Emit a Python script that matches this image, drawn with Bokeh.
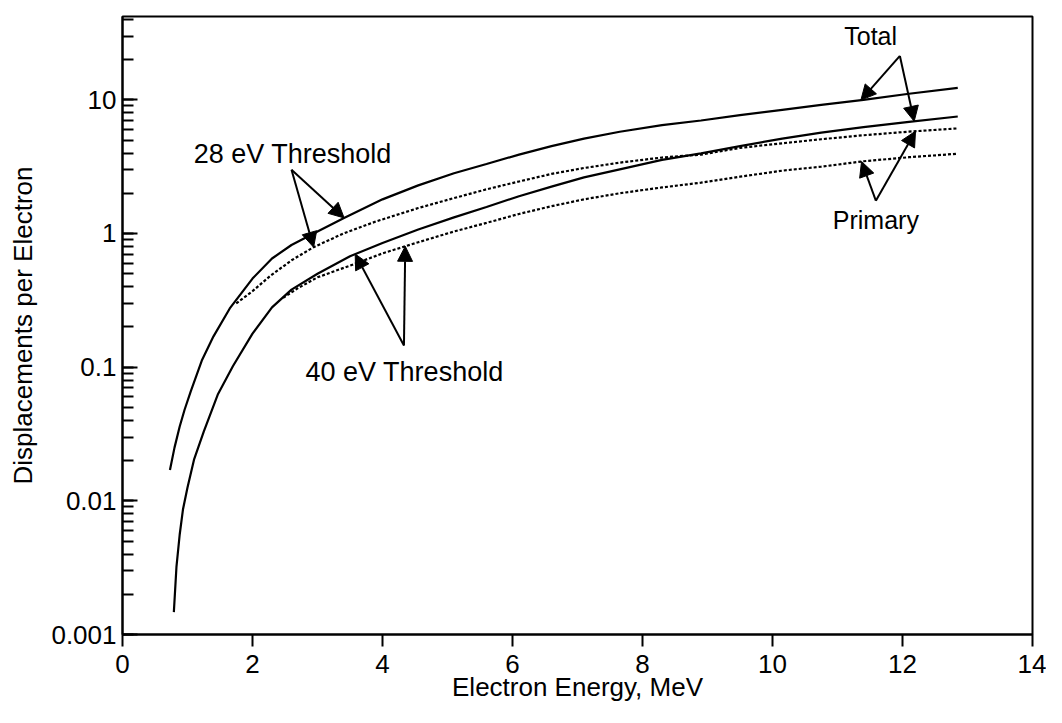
import numpy as np
from bokeh.plotting import figure
from bokeh.models import Range1d, Arrow, NormalHead, Label, CustomJSTickFormatter, FixedTicker
from bokeh.embed import file_html
from bokeh.resources import INLINE

FONT = "Liberation Sans"

# ---- data ----
# 28 eV threshold, total displacements (solid)
e28_total = [0.73, 0.80, 0.88, 0.955, 1.05, 1.22, 1.4, 1.65, 2.0, 2.3, 2.6, 2.94, 3.4, 4.0,
             4.55, 5.1, 5.6, 6.1, 6.6, 7.1, 7.65, 8.3, 8.9, 9.5, 10.15, 10.75, 11.4, 12.1, 12.85]
d28_total = [0.017, 0.025, 0.036, 0.048, 0.066, 0.112, 0.17, 0.275, 0.46, 0.65, 0.82, 1.0, 1.30, 1.80,
             2.29, 2.82, 3.31, 3.89, 4.5, 5.13, 5.77, 6.46, 7.0, 7.67, 8.41, 9.16, 10.0, 11.1, 12.3]

# 40 eV threshold, total displacements (solid)
e40_total = [0.79, 0.83, 0.88, 0.93, 1.0, 1.1, 1.25, 1.47, 1.7, 2.0, 2.3, 2.6, 3.0, 3.5, 4.0,
             4.55, 5.1, 5.6, 6.1, 6.6, 7.1, 7.65, 8.3, 8.9, 9.5, 10.15, 10.75, 11.4, 12.1, 12.85]
d40_total = [0.00147, 0.0032, 0.0056, 0.0086, 0.0126, 0.0203, 0.033, 0.063, 0.102, 0.178, 0.28, 0.38,
             0.50, 0.676, 0.85, 1.07, 1.32, 1.58, 1.9, 2.24, 2.63, 3.02, 3.55, 3.98, 4.5, 5.13, 5.69,
             6.24, 6.84, 7.5]

# 28 eV threshold, primary displacements (dotted)
e28_primary = [1.75, 2.0, 2.27, 2.6, 2.94, 3.4, 3.9, 4.55, 5.1, 5.6, 6.1, 6.6, 7.1, 7.65, 8.3,
               8.9, 9.5, 10.15, 10.75, 11.4, 12.1, 12.85]
d28_primary = [0.30, 0.37, 0.48, 0.63, 0.79, 1.0, 1.23, 1.55, 1.84, 2.14, 2.45, 2.79, 3.09, 3.39, 3.70,
               3.89, 4.37, 4.73, 5.07, 5.43, 5.78, 6.11]

# 40 eV threshold, primary displacements (dotted)
e40_primary = [2.47, 2.7, 3.0, 3.5, 4.0, 4.55, 5.1, 5.6, 6.1, 6.6, 7.1, 7.65, 8.3, 8.9, 9.5,
               10.15, 10.75, 11.4, 12.1, 12.85]
d40_primary = [0.33, 0.39, 0.47, 0.575, 0.71, 0.86, 1.035, 1.2, 1.40, 1.6, 1.8, 2.0, 2.21, 2.4, 2.66,
               2.95, 3.16, 3.47, 3.72, 3.95]

x_ticks = [0, 2, 4, 6, 8, 10, 12, 14]

# annotation placement (data units): text position, arrow apex, arrow tip energies
ann_28 = dict(text="28 eV Threshold", size="27px", tx=2.62, ty=3.9, ax=2.6, ay=3.0,
              tips=[("t28", 3.41), ("p28", 2.94)])
ann_40 = dict(text="40 eV Threshold", size="27px", tx=4.34, ty=0.092, ax=4.33, ay=0.145,
              tips=[("t40", 3.58), ("p40", 4.35)])
ann_tot = dict(text="Total", size="25px", tx=11.51, ty=30.0, ax=11.96, ay=21.3,
               tips=[("t28", 11.36), ("t40", 12.18)])
ann_pri = dict(text="Primary", size="25px", tx=11.59, ty=1.27, ax=11.59, ay=1.76,
               tips=[("p40", 11.37), ("p28", 12.2)])

series = {
    "t28": (e28_total, d28_total),
    "t40": (e40_total, d40_total),
    "p28": (e28_primary, d28_primary),
    "p40": (e40_primary, d40_primary),
}


def on_curve(key, x):
    xs, ys = series[key]
    return float(10 ** np.interp(x, xs, np.log10(ys)))


p = figure(width=1046, height=707, x_range=Range1d(0, 14), y_range=Range1d(0.001, 42),
           y_axis_type="log", output_backend="svg", toolbar_location=None,
           min_border_left=122, min_border_right=14, min_border_top=16, min_border_bottom=73)

p.background_fill_color = "white"
p.border_fill_color = "white"
p.outline_line_color = "black"
p.outline_line_width = 2
p.outline_line_alpha = 1
p.xgrid.visible = False
p.ygrid.visible = False

for key in ("t28", "t40"):
    xs, ys = series[key]
    p.line(xs, ys, line_color="black", line_width=2.2)
for key in ("p28", "p40"):
    xs, ys = series[key]
    p.line(xs, ys, line_color="black", line_width=2.2, line_dash="3 2")

for ann in (ann_28, ann_40, ann_tot, ann_pri):
    for key, xt in ann["tips"]:
        p.add_layout(Arrow(end=NormalHead(size=15, fill_color="black", line_color="black", line_width=1),
                           x_start=ann["ax"], y_start=ann["ay"], x_end=xt, y_end=on_curve(key, xt),
                           line_color="black", line_width=2))
    p.add_layout(Label(x=ann["tx"], y=ann["ty"], text=ann["text"], text_font=FONT,
                       text_font_size=ann["size"], text_align="center", text_baseline="middle",
                       text_color="black"))

# x axis
xa = p.xaxis[0]
xa.ticker = FixedTicker(ticks=x_ticks)
xa.axis_label = "Electron Energy, MeV"
xa.major_tick_in = 0
xa.major_tick_out = 12
xa.minor_tick_line_color = None
xa.major_label_standoff = 8
xa.axis_label_standoff = -4

# y axis
ya = p.yaxis[0]
ya.axis_label = "Displacements per Electron"
ya.major_tick_in = 15
ya.major_tick_out = 0
ya.minor_tick_in = 11
ya.minor_tick_out = 0
ya.major_label_standoff = 6
ya.axis_label_standoff = 10
ya.formatter = CustomJSTickFormatter(code="return Number(tick.toPrecision(3)).toString();")

for ax in (xa, ya):
    ax.axis_line_width = 2
    ax.axis_line_color = "black"
    ax.major_tick_line_width = 2
    ax.major_tick_line_color = "black"
    ax.minor_tick_line_width = 2
    ax.major_label_text_font = FONT
    ax.major_label_text_font_size = "26px"
    ax.major_label_text_color = "black"
    ax.axis_label_text_font = FONT
    ax.axis_label_text_font_size = "26px"
    ax.axis_label_text_font_style = "normal"
    ax.axis_label_text_color = "black"
ya.minor_tick_line_color = "black"

open("out.html", "w").write(file_html(p, INLINE))
